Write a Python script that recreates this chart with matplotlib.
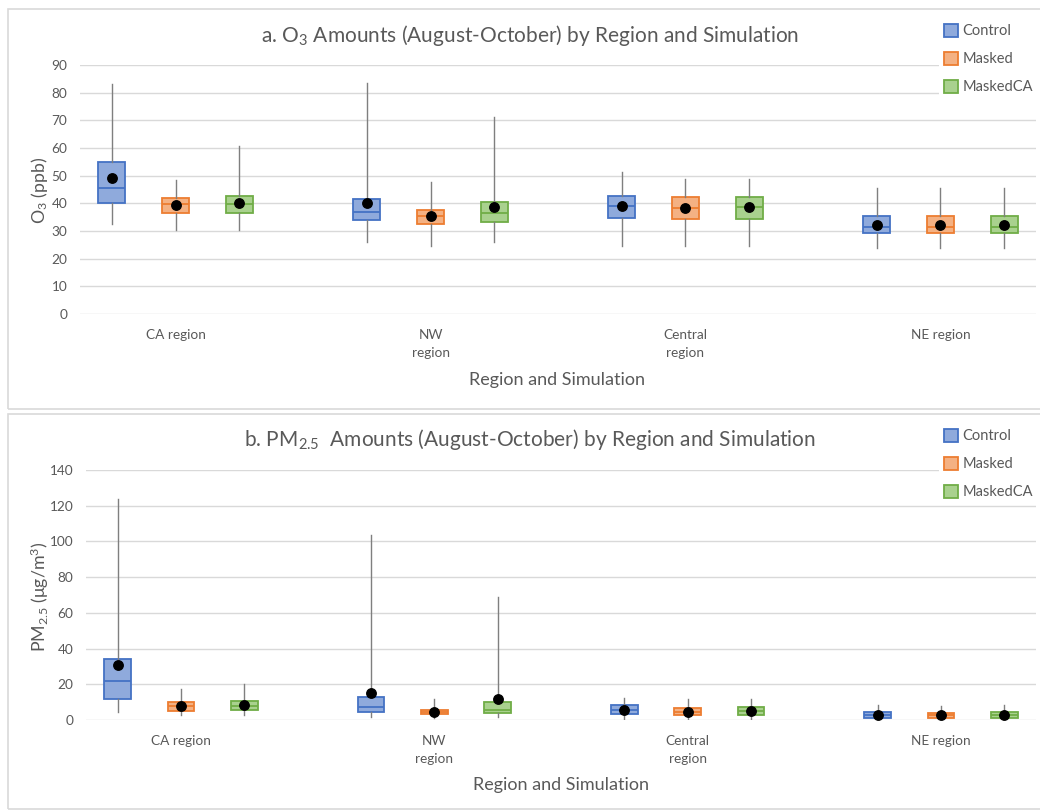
import matplotlib
matplotlib.use("Agg")
import matplotlib.pyplot as plt
from matplotlib.patches import Rectangle, Patch

plt.rcParams['font.family'] = ['Lato', 'DejaVu Sans']
plt.rcParams['mathtext.fontset'] = 'custom'
plt.rcParams['mathtext.rm'] = 'Lato'
plt.rcParams['mathtext.it'] = 'Lato:italic'

regions = ['CA region', 'NW\nregion', 'Central\nregion', 'NE region']
simulations = ['Control', 'Masked', 'MaskedCA']
edge_colors = ['#4472C4', '#ED7D31', '#70AD47']
fill_colors = ['#8FAADC', '#F4B183', '#A9D18E']

# O3 (ppb) summary statistics per region: CA, NW, Central, NE
o3_control_min = [32.4, 25.9, 24.7, 23.7]
o3_control_q1 = [40.0, 34.0, 34.7, 29.2]
o3_control_med = [45.5, 37.0, 39.0, 31.6]
o3_control_q3 = [54.9, 41.4, 42.5, 35.3]
o3_control_max = [83.1, 83.6, 51.2, 45.4]
o3_control_mean = [49.3, 40.0, 39.0, 32.2]

o3_masked_min = [30.4, 24.6, 24.5, 23.7]
o3_masked_q1 = [36.4, 32.6, 34.3, 29.2]
o3_masked_med = [39.8, 35.3, 38.2, 31.6]
o3_masked_q3 = [41.8, 37.5, 42.2, 35.3]
o3_masked_max = [48.3, 47.6, 48.7, 45.4]
o3_masked_mean = [39.4, 35.3, 38.2, 32.2]

o3_maskedca_min = [30.4, 25.9, 24.7, 23.7]
o3_maskedca_q1 = [36.5, 33.4, 34.5, 29.2]
o3_maskedca_med = [39.8, 36.4, 38.5, 31.6]
o3_maskedca_q3 = [42.6, 40.4, 42.3, 35.3]
o3_maskedca_max = [60.7, 71.3, 48.7, 45.4]
o3_maskedca_mean = [40.1, 38.5, 38.5, 32.2]

# PM2.5 (ug/m3) summary statistics per region
pm_control_min = [4.5, 1.5, 0.7, 0.0]
pm_control_q1 = [11.6, 4.3, 3.2, 1.1]
pm_control_med = [22.1, 7.1, 5.6, 3.0]
pm_control_q3 = [34.2, 13.1, 8.2, 4.3]
pm_control_max = [123.9, 103.4, 12.3, 8.2]
pm_control_mean = [30.7, 15.3, 5.8, 2.8]

pm_masked_min = [2.8, 0.9, 0.7, 0.3]
pm_masked_q1 = [5.0, 3.2, 2.6, 1.1]
pm_masked_med = [7.9, 4.5, 4.7, 2.8]
pm_masked_q3 = [10.1, 5.8, 6.5, 4.1]
pm_masked_max = [17.2, 11.6, 11.6, 7.9]
pm_masked_mean = [7.9, 4.7, 4.7, 2.8]

pm_maskedca_min = [2.8, 1.5, 0.7, 0.3]
pm_maskedca_q1 = [5.4, 3.9, 3.0, 1.1]
pm_maskedca_med = [8.0, 5.6, 5.0, 3.0]
pm_maskedca_q3 = [10.8, 9.9, 7.1, 4.3]
pm_maskedca_max = [20.2, 68.8, 11.6, 8.2]
pm_maskedca_mean = [8.4, 12.0, 5.0, 2.8]

o3_stats = [
    (o3_control_min, o3_control_q1, o3_control_med, o3_control_q3, o3_control_max, o3_control_mean),
    (o3_masked_min, o3_masked_q1, o3_masked_med, o3_masked_q3, o3_masked_max, o3_masked_mean),
    (o3_maskedca_min, o3_maskedca_q1, o3_maskedca_med, o3_maskedca_q3, o3_maskedca_max, o3_maskedca_mean),
]
pm_stats = [
    (pm_control_min, pm_control_q1, pm_control_med, pm_control_q3, pm_control_max, pm_control_mean),
    (pm_masked_min, pm_masked_q1, pm_masked_med, pm_masked_q3, pm_masked_max, pm_masked_mean),
    (pm_maskedca_min, pm_maskedca_q1, pm_maskedca_med, pm_maskedca_q3, pm_maskedca_max, pm_maskedca_mean),
]

TEXT = '#595959'
GRID = '#D9D9D9'
W, H = 1040, 810

fig = plt.figure(figsize=(W / 100, H / 100), dpi=100)


def px(x0, y0, x1, y1):
    # pixel box (top-left origin) -> figure fraction rect
    return [x0 / W, 1 - y1 / H, (x1 - x0) / W, (y1 - y0) / H]


# panel borders
for (x0, y0, x1, y1) in [(8, 9, 1060, 409), (8, 414, 1060, 809)]:
    fig.patches.append(Rectangle((x0 / W, 1 - y1 / H), (x1 - x0) / W, (y1 - y0) / H,
                                 transform=fig.transFigure, fill=False,
                                 edgecolor='#D9D9D9', linewidth=1.2))


def draw_panel(rect, stats, ymax, ystep, leg_xy):
    ax = fig.add_axes(rect)
    offsets = [-0.25, 0.0, 0.25]
    for s, (mn, q1, med, q3, mx, mean) in enumerate(stats):
        bxp = []
        for i in range(len(regions)):
            bxp.append(dict(whislo=mn[i], q1=q1[i], med=med[i], q3=q3[i],
                            whishi=mx[i], mean=mean[i], fliers=[]))
        pos = [i + offsets[s] for i in range(len(regions))]
        ax.bxp(bxp, positions=pos, widths=0.105, patch_artist=True,
               showmeans=True, showcaps=False, showfliers=False,
               boxprops=dict(facecolor=fill_colors[s], edgecolor=edge_colors[s], linewidth=1.3),
               medianprops=dict(color=edge_colors[s], linewidth=1.3),
               whiskerprops=dict(color='#7F7F7F', linewidth=1.0),
               meanprops=dict(marker='o', markerfacecolor='black', markeredgecolor='black',
                              markersize=6.8),
               zorder=3)
    ax.set_xlim(-0.375, 3.375)
    ax.set_ylim(0, ymax)
    ax.set_yticks(range(0, ymax + 1, ystep))
    ax.set_xticks(range(len(regions)))
    ax.set_xticklabels(regions)
    for lab in ax.get_xticklabels():
        lab.set_linespacing(1.6)
    ax.tick_params(axis='both', length=0, colors=TEXT, labelsize=9.8)
    ax.tick_params(axis='x', pad=11)
    ax.tick_params(axis='y', pad=9)
    ax.grid(axis='y', color=GRID, linewidth=1.0, zorder=0)
    ax.set_axisbelow(True)
    for sp in ax.spines.values():
        sp.set_visible(False)
    handles = [Patch(facecolor=fill_colors[k], edgecolor=edge_colors[k], linewidth=1.3,
                     label=simulations[k]) for k in range(3)]
    leg = ax.legend(handles=handles, loc='upper left',
                    bbox_to_anchor=(leg_xy[0] / W, 1 - leg_xy[1] / H),
                    bbox_transform=fig.transFigure, frameon=True, facecolor='white',
                    edgecolor='none', framealpha=1, fontsize=10.5, handlelength=1.0,
                    handleheight=1.0, handletextpad=0.3, labelspacing=0.92,
                    borderpad=0.3, labelcolor=TEXT)
    leg.set_zorder(10)
    return ax


ax1 = draw_panel(px(80, 65, 1036, 314), o3_stats, 90, 10, (932, 12))
ax2 = draw_panel(px(86, 470, 1036, 720), pm_stats, 140, 20, (932, 417))

fig.text(530 / W, 1 - 35 / H, 'a. O$_3$ Amounts (August-October) by Region and Simulation',
         ha='center', va='center', fontsize=15, color=TEXT)
fig.text(530 / W, 1 - 440 / H, 'b. PM$_{2.5}$  Amounts (August-October) by Region and Simulation',
         ha='center', va='center', fontsize=15, color=TEXT)
fig.text(557 / W, 1 - 380 / H, 'Region and Simulation', ha='center', va='center',
         fontsize=13, color=TEXT)
fig.text(561 / W, 1 - 785 / H, 'Region and Simulation', ha='center', va='center',
         fontsize=13, color=TEXT)
fig.text(40 / W, 1 - 190 / H, 'O$_3$ (ppb)', ha='center', va='center', rotation=90,
         fontsize=12.8, color=TEXT)
fig.text(40 / W, 1 - 597 / H, 'PM$_{2.5}$ (μg/m$^3$)', ha='center', va='center', rotation=90,
         fontsize=12.8, color=TEXT)

fig.savefig('out.png', dpi=100, facecolor='white')
